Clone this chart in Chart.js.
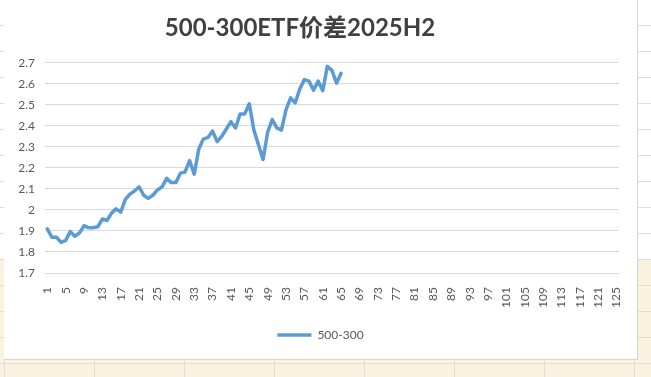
<!DOCTYPE html>
<html>
<head>
<meta charset="utf-8">
<script src="https://cdn.jsdelivr.net/npm/chart.js@4.4.1/dist/chart.umd.min.js"></script>
<style>
  html, body { margin: 0; padding: 0; }
  body {
    width: 651px; height: 377px; overflow: hidden; position: relative;
    background:
      repeating-linear-gradient(to right, transparent 0 4px, #E3DED4 4px 5px, transparent 5px 90px),
      repeating-linear-gradient(to bottom, transparent 0 25px, #E0DDD6 25px 26px),
      linear-gradient(to bottom, #ffffff 0 259px, #FBF1DF 259px);
  }
  #box {
    position: absolute; left: 4px; top: 0; width: 633px; height: 359px;
    background: #fff; border-right: 1px solid #D4D4D4; border-bottom: 1px solid #D4D4D4;
  }
</style>
</head>
<body>
<div id="box"><canvas id="c" width="633" height="359"></canvas></div>
<script>
// x categories 1..125 (Excel axis), only first 65 have values
const categories = [];
for (let i = 1; i <= 125; i++) categories.push(String(i));

const seriesName = '500-300';
const spread = [
  1.91, 1.87, 1.87, 1.846, 1.855, 1.897, 1.875, 1.89, 1.925, 1.915,
  1.915, 1.92, 1.957, 1.95, 1.985, 2.005, 1.99, 2.05, 2.075, 2.09,
  2.11, 2.07, 2.055, 2.07, 2.095, 2.11, 2.15, 2.13, 2.13, 2.175,
  2.18, 2.235, 2.17, 2.29, 2.337, 2.345, 2.375, 2.325, 2.35, 2.385,
  2.42, 2.39, 2.457, 2.457, 2.505, 2.38, 2.31, 2.24, 2.37, 2.43,
  2.39, 2.38, 2.476, 2.533, 2.51, 2.575, 2.62, 2.613, 2.57, 2.613,
  2.567, 2.683, 2.664, 2.603, 2.65
];

const yMin = 1.7, yMax = 2.7, yStep = 0.1;

const tickFont = { family: "Lato, 'Noto Sans CJK SC', sans-serif", size: 12 };

// Excel puts the title a bit left of centre and the legend in the middle of the whole box
const shiftBlocks = {
  id: 'shiftBlocks',
  afterLayout(chart) {
    chart.titleBlock.right -= 23;
    chart.legend.right += 18;
  }
};

new Chart(document.getElementById('c'), {
  type: 'line',
  data: {
    labels: categories,
    datasets: [{
      label: seriesName,
      data: spread,
      borderColor: '#5B9BD5',
      backgroundColor: '#5B9BD5',
      borderWidth: 3.5,
      pointRadius: 0,
      tension: 0,
      borderJoinStyle: 'round',
      borderCapStyle: 'round'
    }]
  },
  plugins: [shiftBlocks],
  options: {
    responsive: false,
    animation: false,
    devicePixelRatio: 1,
    layout: { padding: { left: 0, right: 18, top: 0, bottom: 8 } },
    plugins: {
      title: {
        display: true,
        text: '500-300ETF价差2025H2',
        color: '#404040',
        font: { family: "Lato, 'Noto Sans CJK SC', sans-serif", size: 24, weight: 'bold' },
        padding: { top: 14, bottom: 20 }
      },
      legend: {
        position: 'bottom',
        labels: {
          usePointStyle: true,
          pointStyle: 'line',
          pointStyleWidth: 34,
          color: '#595959',
          font: tickFont,
          padding: 10
        }
      },
      tooltip: { enabled: false }
    },
    scales: {
      x: {
        offset: true,
        grid: { display: false },
        border: { color: '#D9D9D9', width: 1 },
        ticks: {
          autoSkip: false,
          maxRotation: 90,
          minRotation: 90,
          padding: 6,
          color: '#595959',
          font: tickFont,
          callback: function (v, i) { return i % 4 === 0 ? this.getLabelForValue(v) : ''; }
        },
        afterFit: s => { s.height = 46; }
      },
      y: {
        min: yMin,
        max: yMax,
        grid: { color: '#D9D9D9', drawTicks: false },
        border: { display: false },
        ticks: {
          stepSize: yStep,
          padding: 10,
          color: '#595959',
          font: tickFont,
          callback: v => String(Math.round(v * 10) / 10)
        },
        afterFit: s => { s.width = 41; }
      }
    }
  }
});
</script>
</body>
</html>
